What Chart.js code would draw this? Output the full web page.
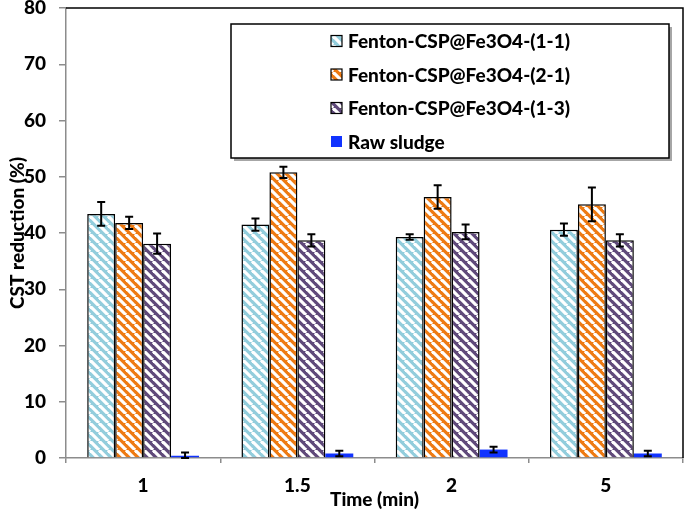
<!DOCTYPE html>
<html>
<head>
<meta charset="utf-8">
<script src="https://cdn.jsdelivr.net/npm/chart.js@4.4.0/dist/chart.umd.min.js"></script>
<style>
html,body{margin:0;padding:0;background:#fff;}
#wrap{width:686px;height:511px;position:relative;}
</style>
</head>
<body>
<div id="wrap"><canvas id="c" width="686" height="511"></canvas></div>
<script>
const categories = ['1', '1.5', '2', '5'];
const seriesNames = ['Fenton-CSP@Fe3O4-(1-1)', 'Fenton-CSP@Fe3O4-(2-1)', 'Fenton-CSP@Fe3O4-(1-3)', 'Raw sludge'];
const s11 = [43.4, 41.5, 39.3, 40.6];
const e11 = [2.1, 1.1, 0.5, 1.1];
const s21 = [41.8, 50.8, 46.4, 45.1];
const e21 = [1.1, 1.0, 2.1, 3.0];
const s13 = [38.1, 38.7, 40.2, 38.7];
const e13 = [1.8, 1.1, 1.3, 1.1];
const raw = [0.4, 0.8, 1.5, 0.8];
const eraw = [0.6, 0.5, 0.5, 0.5];
const yTicks = [0, 10, 20, 30, 40, 50, 60, 70, 80];

const FONT = 'Lato';
const WEIGHT = '900';

function makePattern(color) {
  const s = 9;
  const cv = document.createElement('canvas');
  cv.width = s; cv.height = s;
  const g = cv.getContext('2d');
  g.fillStyle = color;
  g.fillRect(0, 0, s, s);
  g.strokeStyle = '#ffffff';
  g.lineWidth = 3.2;
  for (const o of [-s, 0, s]) {
    g.beginPath();
    g.moveTo(o, 0);
    g.lineTo(o + s, s);
    g.stroke();
  }
  return g.createPattern(cv, 'repeat');
}

const ctx0 = document.getElementById('c').getContext('2d');
const pBlue = makePattern('#92cddc');
const pOrange = makePattern('#ee7a12');
const pPurple = makePattern('#5f497a');
const rawColor = '#1133ff';

const errs = [e11, e21, e13, eraw];
const fills = [pBlue, pOrange, pPurple, rawColor];

const errorBars = {
  id: 'errorBars',
  afterDatasetsDraw(chart) {
    const c = chart.ctx;
    const y = chart.scales.y;
    c.save();
    c.strokeStyle = '#000';
    c.lineWidth = 2;
    chart.data.datasets.forEach((ds, di) => {
      const meta = chart.getDatasetMeta(di);
      meta.data.forEach((bar, i) => {
        const v = ds.data[i];
        const e = errs[di][i];
        const x = bar.x;
        const yt = y.getPixelForValue(v + e);
        const yb = y.getPixelForValue(Math.max(0, v - e));
        const cw = 4;
        c.beginPath();
        c.moveTo(x, yt); c.lineTo(x, yb);
        c.moveTo(x - cw, yt); c.lineTo(x + cw, yt);
        c.moveTo(x - cw, yb); c.lineTo(x + cw, yb);
        c.stroke();
      });
    });
    c.restore();
  }
};

const frameAndLegend = {
  id: 'frameAndLegend',
  afterDraw(chart) {
    const c = chart.ctx;
    const a = chart.chartArea;
    c.save();
    c.strokeStyle = '#000';
    c.lineWidth = 1.5;
    c.beginPath();
    c.moveTo(a.left, a.top); c.lineTo(a.right, a.top); c.lineTo(a.right, a.bottom);
    c.stroke();
    const bx = 231, by = 24, bw = 438, bh = 134;
    c.fillStyle = 'rgba(0,0,0,0.35)';
    c.fillRect(bx + 3, by + 3, bw, bh);
    c.fillStyle = '#fff';
    c.fillRect(bx, by, bw, bh);
    c.strokeStyle = '#000';
    c.lineWidth = 1.5;
    c.strokeRect(bx, by, bw, bh);
    const rows = [41, 74.5, 108, 141.5];
    c.font = WEIGHT + ' 19px ' + FONT;
    c.textBaseline = 'middle';
    c.textAlign = 'left';
    seriesNames.forEach((n, i) => {
      const ry = rows[i];
      c.fillStyle = fills[i];
      c.fillRect(331, ry - 5.5, 11, 11);
      if (i < 3) {
        c.strokeStyle = '#000';
        c.lineWidth = 1.2;
        c.strokeRect(331, ry - 5.5, 11, 11);
      }
      c.fillStyle = '#000';
      c.fillText(n, 348, ry + 1);
    });
    c.restore();
  }
};

const datasets = [
  { label: seriesNames[0], data: s11, backgroundColor: pBlue, borderColor: '#000', borderWidth: 1.5 },
  { label: seriesNames[1], data: s21, backgroundColor: pOrange, borderColor: '#000', borderWidth: 1.5 },
  { label: seriesNames[2], data: s13, backgroundColor: pPurple, borderColor: '#000', borderWidth: 1.5 },
  { label: seriesNames[3], data: raw, backgroundColor: rawColor, borderColor: rawColor, borderWidth: 0 }
];

new Chart(ctx0, {
  type: 'bar',
  data: { labels: categories, datasets: datasets },
  options: {
    responsive: false,
    animation: false,
    devicePixelRatio: 1,
    layout: { padding: { top: 8, right: 3, left: 0, bottom: 0 } },
    datasets: { bar: { categoryPercentage: 0.725, barPercentage: 1.0 } },
    plugins: { legend: { display: false }, tooltip: { enabled: false } },
    scales: {
      x: {
        grid: { drawOnChartArea: false, drawTicks: true, tickLength: 5, color: '#8c8c8c', lineWidth: 1.5, offset: true },
        border: { color: '#8c8c8c', width: 1.5 },
        ticks: { color: '#000', font: { family: FONT, size: 19, weight: WEIGHT }, padding: 11 },
        title: { display: true, text: 'Time (min)', color: '#000', font: { family: FONT, size: 19, weight: WEIGHT }, padding: { top: 0, bottom: 0 } },
        afterFit(s) { s.height = 53; s.paddingLeft = 0; s.paddingRight = 0; }
      },
      y: {
        min: 0, max: 80,
        afterBuildTicks(s) { s.ticks = yTicks.map(v => ({ value: v })); },
        grid: { drawOnChartArea: false, drawTicks: true, tickLength: 7, color: '#8c8c8c', lineWidth: 1.5 },
        border: { color: '#8c8c8c', width: 1.5 },
        ticks: { color: '#000', font: { family: FONT, size: 19, weight: WEIGHT }, padding: 13 },
        title: { display: true, text: 'CST reduction (%)', color: '#000', font: { family: FONT, size: 19, weight: WEIGHT }, padding: { top: 6, bottom: 0 } },
        afterFit(s) { s.width = 66; s.paddingTop = 0; s.paddingBottom = 0; }
      }
    }
  },
  plugins: [errorBars, frameAndLegend]
});
</script>
</body>
</html>
